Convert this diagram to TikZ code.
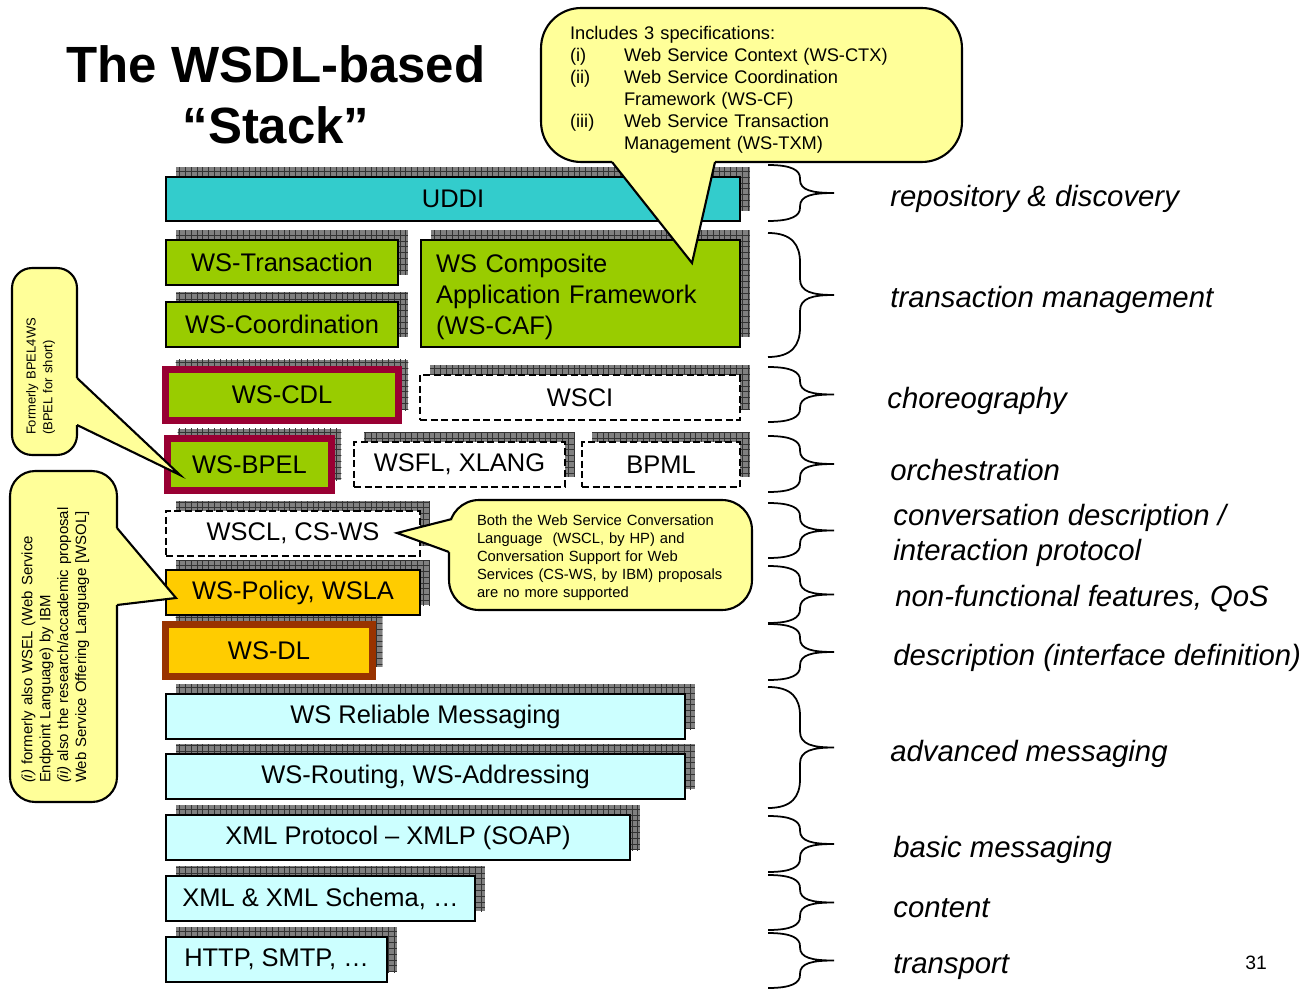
\documentclass[tikz,border=0pt]{standalone}
\usepackage{fontspec}
\setmainfont{Liberation Sans}
\usepackage{xcolor}
\usetikzlibrary{shadows, patterns}

\definecolor{udditeal}{HTML}{33CCCC}
\definecolor{txgreen}{HTML}{99CC00}
\definecolor{qosorange}{HTML}{FFCC00}
\definecolor{msgcyan}{HTML}{CCFFFF}
\definecolor{chorred}{HTML}{990033}
\definecolor{descbrown}{HTML}{993300}
\definecolor{noteyellow}{HTML}{FFFF99}

\newcommand{\boxfont}{\fontsize{14.5}{17.6}\selectfont}
\newcommand{\lblfont}{\fontsize{16.7}{20}\selectfont\itshape}
\newcommand{\titlefont}{\fontsize{29}{35}\selectfont\bfseries}

% grid of the shadows
\pgfdeclarepatternformonly{shadowgrid}{\pgfqpoint{-1pt}{-1pt}}{\pgfqpoint{4.4pt}{4.4pt}}{\pgfqpoint{3.3pt}{3.3pt}}{%
  \pgfsetlinewidth{0.5pt}%
  \pgfpathmoveto{\pgfqpoint{0pt}{0pt}}\pgfpathlineto{\pgfqpoint{0pt}{3.4pt}}%
  \pgfpathmoveto{\pgfqpoint{0pt}{0pt}}\pgfpathlineto{\pgfqpoint{3.4pt}{0pt}}%
  \pgfusepath{stroke}}

\tikzset{
  layer/.style={draw, line width=1.1pt, inner sep=0pt, font=\boxfont, minimum height=0.9cm,
    general shadow={fill=gray, shadow xshift=0.2cm, shadow yshift=0.2cm},
    general shadow={pattern=shadowgrid, pattern color=black!80, shadow xshift=0.2cm, shadow yshift=0.2cm}},
  dashlayer/.style={layer, fill=white, dash pattern=on 4pt off 2pt},
  framed/.style={line width=0.14cm, minimum height=1.04cm},
  lbl/.style={anchor=west, font=\lblfont, inner sep=0pt},
  note/.style={draw, fill=noteyellow, line width=1.2pt},
  pointer/.style={line width=1.2pt, line join=miter},
  bracepen/.style={line width=1pt}
}

% curly brace between two heights
\newcommand{\stackbrace}[2]{%
  \pgfmathsetmacro{\brmid}{(#1+#2)/2}%
  \pgfmathsetmacro{\brr}{(#2-#1)/4.2}%
  \pgfmathsetmacro{\brq}{min(\brr,16)}%
  \draw[bracepen] (768,#1) .. controls (792,#1) and (800,#1+0.4*\brr) .. (800,#1+\brr)
    -- (800,\brmid-\brq) .. controls (800,\brmid-0.2*\brq) and (812,\brmid) .. (834,\brmid)
    .. controls (812,\brmid) and (800,\brmid+0.2*\brq) .. (800,\brmid+\brq)
    -- (800,#2-\brr) .. controls (800,#2-0.4*\brr) and (792,#2) .. (768,#2);}

\begin{document}
\begin{tikzpicture}[x=0.02cm, y=-0.02cm]
 \path[fill=white, use as bounding box] (0,0) rectangle (1314,989);

 \node[font=\titlefont, align=center] (title) at (276,95) {The WSDL-based\\“Stack”};

 %stack, from the bottom up
 \node[layer, fill=msgcyan, minimum width=4.42cm] (http) at (276.5,959.5) {HTTP, SMTP, …};
 \node[layer, fill=msgcyan, minimum width=6.18cm] (xsd) at (320.5,898.5) {XML \& XML Schema, …};
 \node[layer, fill=msgcyan, minimum width=9.28cm] (xmlp) at (398,837.5) {XML Protocol – XMLP (SOAP)};
 \node[layer, fill=msgcyan, minimum width=10.38cm] (wsrouting) at (425.5,776.5) {WS-Routing, WS-Addressing};
 \node[layer, fill=msgcyan, minimum width=10.38cm] (wsrm) at (425.5,716.5) {WS Reliable Messaging};

 \node[layer, framed, draw=descbrown, fill=qosorange, minimum width=4.14cm] (wsdl) at (269,650.5) {WS-DL};
 \node[layer, fill=qosorange, minimum width=5.08cm] (wspolicy) at (293,592.5) {WS-Policy, WSLA};
 \node[dashlayer, minimum width=5.08cm] (wscl) at (293,533.5) {WSCL, CS-WS};

 \node[layer, framed, draw=chorred, fill=txgreen, minimum width=3.28cm] (wsbpel) at (249.5,464.5) {WS-BPEL};
 \node[dashlayer, minimum width=4.22cm] (wsfl) at (459.5,464.5) {WSFL, XLANG};
 \node[dashlayer, minimum width=3.16cm] (bpml) at (661,464.5) {BPML};

 \node[layer, framed, draw=chorred, fill=txgreen, minimum width=4.66cm, minimum height=1.02cm] (wscdl) at (282,395) {WS-CDL};
 \node[dashlayer, minimum width=6.40cm] (wsci) at (580,397.5) {WSCI};

 \node[layer, fill=txgreen, minimum width=4.64cm] (wscoord) at (282,324.5) {WS-Coordination};
 \node[layer, fill=txgreen, minimum width=4.64cm] (wstx) at (282,262.5) {WS-Transaction};
 \node[layer, fill=txgreen, minimum height=2.14cm, inner xsep=0.3cm, text width=5.78cm, align=left] (wscaf) at (580.5,293.5)
   {\rule{0pt}{14pt}WS Composite\\Application Framework\\(WS-CAF)};

 \node[layer, fill=udditeal, minimum width=11.48cm, minimum height=0.88cm] (uddi) at (453,199) {UDDI};

 %callouts
 \node[note, rounded corners=0.8cm, minimum width=8.42cm, minimum height=3.08cm, inner xsep=0.58cm, text width=7.26cm,
   font=\fontsize{10.4}{12.5}\selectfont] (specs) at (751.5,85)
   {\begin{tabular}{@{}p{1.08cm}@{}l@{}}
    \multicolumn{2}{@{}l@{}}{\rule{0pt}{14.4pt}Includes 3 specifications:}\\
    (i) & Web Service Context (WS-CTX)\\
    (ii) & Web Service Coordination\\
        & Framework (WS-CF)\\
    (iii) & Web Service Transaction\\
        & Management (WS-TXM)
   \end{tabular}};
 \coordinate (specs-l) at (612,162);
 \coordinate (specs-r) at (715,162);
 \coordinate (specs-tip) at (692,263);
 \fill[noteyellow] (specs-l) -- (specs-tip) -- (specs-r) -- cycle;
 \draw[noteyellow, line width=2pt] (specs-l) -- (specs-r);
 \draw[pointer] (specs-l) -- (specs-tip) -- (specs-r);

 \node[note, rounded corners=0.6cm, minimum width=6.06cm, minimum height=2.2cm, inner xsep=0.56cm, text width=4.94cm,
   align=left, font=\fontsize{8.4}{10.2}\selectfont] (wsclnote) at (600.5,555)
   {\rule{0pt}{9.5pt}Both the Web Service Conversation\\Language\ \ (WSCL, by HP) and\\Conversation Support for Web\\Services (CS-WS, by IBM) proposals\\are no more supported};
 \coordinate (wsclnote-u) at (452,519);
 \coordinate (wsclnote-d) at (449,552);
 \coordinate (wsclnote-tip) at (397,533);
 \fill[noteyellow] (wsclnote-u) -- (wsclnote-tip) -- (wsclnote-d) -- cycle;
 \draw[noteyellow, line width=2pt] (wsclnote-u) -- (wsclnote-d);
 \draw[pointer] (wsclnote-u) -- (wsclnote-tip) -- (wsclnote-d);

 \node[note, rotate=90, rounded corners=0.4cm, minimum width=3.74cm, minimum height=1.30cm, inner xsep=0.4cm, text width=2.94cm,
   align=left, font=\fontsize{7.4}{9.6}\selectfont] (bpelnote) at (44.5,361.5)
   {Formerly BPEL4WS\\(BPEL for short)\rule[-6pt]{0pt}{0pt}};
 \coordinate (bpelnote-u) at (77,378);
 \coordinate (bpelnote-d) at (77,425);
 \coordinate (bpelnote-tip) at (180,475);
 \fill[noteyellow] (bpelnote-u) -- (bpelnote-tip) -- (bpelnote-d) -- cycle;
 \draw[noteyellow, line width=2pt] (bpelnote-u) -- (bpelnote-d);
 \draw[pointer] (bpelnote-u) -- (bpelnote-tip) -- (bpelnote-d);

 \node[note, rotate=90, rounded corners=0.5cm, minimum width=6.62cm, minimum height=2.14cm, inner xsep=0.38cm, text width=5.86cm,
   align=left, font=\fontsize{8.5}{10.2}\selectfont] (policynote) at (63.5,636.5)
   {\textit{(i)} formerly also WSEL (Web Service\\Endpoint Language) by IBM\\\textit{(ii)} also the research/accademic proposal\\Web Service Offering Language [WSOL]\rule[-11pt]{0pt}{0pt}};
 \coordinate (policynote-u) at (117,528);
 \coordinate (policynote-d) at (117,605);
 \coordinate (policynote-tip) at (176,598);
 \fill[noteyellow] (policynote-u) -- (policynote-tip) -- (policynote-d) -- cycle;
 \draw[noteyellow, line width=2pt] (policynote-u) -- (policynote-d);
 \draw[pointer] (policynote-u) -- (policynote-tip) -- (policynote-d);

 %braces
 \stackbrace{165}{221}
 \stackbrace{233}{357}
 \stackbrace{367}{422}
 \stackbrace{436}{492}
 \stackbrace{503}{558}
 \stackbrace{566}{623}
 \stackbrace{624}{680}
 \stackbrace{687}{808}
 \stackbrace{816}{872}
 \stackbrace{875}{930}
 \stackbrace{933}{988}

 %layer names
 \node[lbl] (repo) at (890,199) {repository \& discovery};
 \node[lbl] (txmgmt) at (890,300) {transaction management};
 \node[lbl] (chor) at (887,401) {choreography};
 \node[lbl] (orch) at (890,470) {orchestration};
 \node[lbl, align=left] (conv) at (893,535) {conversation description /\\interaction protocol};
 \node[lbl] (nonfunc) at (895,599) {non-functional features, QoS};
 \node[lbl] (desc) at (893,658) {description (interface definition)};
 \node[lbl] (advmsg) at (890,754) {advanced messaging};
 \node[lbl] (basicmsg) at (893,850) {basic messaging};
 \node[lbl] (content) at (893,908) {content};
 \node[lbl] (transport) at (893,967) {transport};

 \node[font=\fontsize{11}{13}\selectfont] (pageno) at (1256,963) {31};
\end{tikzpicture}
\end{document}
